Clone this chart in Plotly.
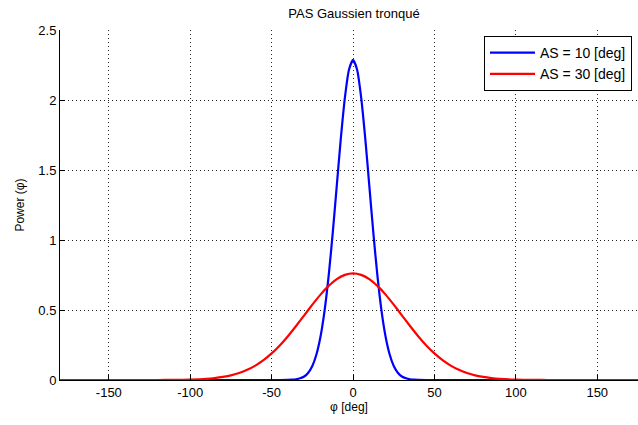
import plotly.graph_objects as go

# Angle (deg) and power values
phi_as10 = [-180, -45, -40, -37.5, -35, -32.5, -30, -27.5, -25, -22.5, -20, -17.5, -15, -12.5, -10, -7.5, -5, -2.5, 0,
            2.5, 5, 7.5, 10, 12.5, 15, 17.5, 20, 22.5, 25, 27.5, 30, 32.5, 35, 37.5, 40, 45, 180]
pow_as10 = [0, 0, 0.001, 0.002, 0.005, 0.012, 0.025, 0.052, 0.100, 0.182, 0.309, 0.494, 0.742, 1.047, 1.387, 1.726, 2.017, 2.216, 2.286,
            2.216, 2.017, 1.726, 1.387, 1.047, 0.742, 0.494, 0.309, 0.182, 0.100, 0.052, 0.025, 0.012, 0.005, 0.002, 0.001, 0, 0]

phi_as30 = [-180, -120, -110, -100, -90, -85, -80, -75, -70, -65, -60, -55, -50, -45, -40, -35, -30, -25, -20, -15, -10, -5, 0,
            5, 10, 15, 20, 25, 30, 35, 40, 45, 50, 55, 60, 65, 70, 75, 80, 85, 90, 100, 110, 120, 180]
pow_as30 = [0, 0, 0.001, 0.003, 0.0085, 0.014, 0.022, 0.033, 0.050, 0.073, 0.103, 0.142, 0.190, 0.247, 0.313, 0.386, 0.462, 0.538, 0.610, 0.672, 0.721, 0.751, 0.762,
            0.751, 0.721, 0.672, 0.610, 0.538, 0.462, 0.386, 0.313, 0.247, 0.190, 0.142, 0.103, 0.073, 0.050, 0.033, 0.022, 0.014, 0.0085, 0.003, 0.001, 0, 0]

series_names = ["AS = 10 [deg]", "AS = 30 [deg]"]
x_ticks = [-150, -100, -50, 0, 50, 100, 150]
x_tick_text = ["-150", "-100", "-50", "0", "50", "100", "150"]
y_ticks = [0, 0.5, 1, 1.5, 2, 2.5]
y_tick_text = ["0", "0.5", "1", "1.5", "2", "2.5"]

font = "Liberation Sans, Arial, sans-serif"

fig = go.Figure()
fig.add_trace(go.Scatter(x=phi_as10, y=pow_as10, mode="lines", name=series_names[0],
                         line=dict(color="#0000ff", width=2.2, shape="spline", smoothing=0.6)))
fig.add_trace(go.Scatter(x=phi_as30, y=pow_as30, mode="lines", name=series_names[1],
                         line=dict(color="#ff0000", width=2.2, shape="spline", smoothing=0.6)))

grid = dict(showgrid=True, gridcolor="#262626", gridwidth=1, griddash="1px,3px", zeroline=False)

W, H = 638, 425
L, T, B = 60, 30, 45
PX_PER_DEG = 1.628
x_max = -180 + (W - L) / PX_PER_DEG

fig.update_layout(
    width=W, height=H,
    margin=dict(l=L, r=0, t=T, b=B),
    paper_bgcolor="white", plot_bgcolor="white",
    font=dict(family=font, size=13, color="#000000"),
    title=dict(text="PAS Gaussien tronqué", x=354 / W, xref="container", xanchor="center",
               y=1 - 13 / H, yref="container", yanchor="middle", pad=dict(t=0, b=0), font=dict(size=13)),
    xaxis=dict(range=[-180, x_max], tickvals=x_ticks, ticktext=x_tick_text, ticks="inside", ticklen=5,
               tickcolor="#000000", showline=True, linecolor="#000000", linewidth=1, mirror=False,
               automargin=False, title=dict(text="φ [deg]", standoff=4, font=dict(size=12)), **grid),
    yaxis=dict(range=[0, 2.5], tickvals=y_ticks, ticktext=y_tick_text, ticks="inside", ticklen=5,
               tickcolor="#000000", showline=True, linecolor="#000000", linewidth=1, mirror=False,
               automargin=False, title=dict(text="Power (φ)", standoff=11, font=dict(size=12)), **grid),
    legend=dict(x=(484 - L) / (W - L), y=(380 - 36) / 350, xanchor="left", yanchor="top",
                bgcolor="white", bordercolor="#000000", borderwidth=1,
                font=dict(size=14), itemwidth=45, tracegroupgap=0),
    showlegend=True,
)

fig.write_html("out.html", config={"displayModeBar": False},
               post_script="document.body.style.margin='0';")
